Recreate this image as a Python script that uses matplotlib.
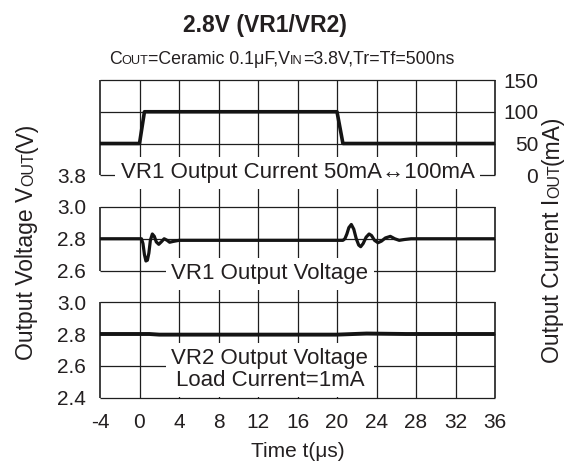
import matplotlib
matplotlib.use("Agg")
import matplotlib.pyplot as plt

plt.rcParams["font.family"] = ["Liberation Sans", "DejaVu Sans"]

# ---------------- data ----------------
time_ticks = [-4, 0, 4, 8, 12, 16, 20, 24, 28, 32, 36]

# VR1 load current step (mA)
cur_t = [-4, 0.0, 0.5, 20.0, 20.6, 36]
cur_ma = [50, 50, 100, 100, 50, 50]

# VR1 output voltage response (V)
vr1_t = [-4, 0.2, 0.35, 0.5, 0.65, 0.8, 0.95, 1.1, 1.3, 1.5, 1.7, 1.95, 2.2,
         2.5, 2.8, 3.05, 3.4, 4.0, 5.0, 8.0, 12.0, 16.0, 20.6, 20.8, 21.0,
         21.2, 21.45, 21.7, 21.95, 22.2, 22.4, 22.65, 22.95, 23.25, 23.5,
         23.8, 24.15, 24.5, 24.9, 25.4, 25.85, 26.3, 26.8, 27.5, 36]
vr1_v = [2.80, 2.80, 2.77, 2.70, 2.66, 2.665, 2.71, 2.79, 2.83, 2.815, 2.78,
         2.765, 2.78, 2.80, 2.79, 2.778, 2.783, 2.79, 2.79, 2.79, 2.79, 2.79,
         2.79, 2.80, 2.83, 2.87, 2.89, 2.86, 2.80, 2.76, 2.75, 2.77, 2.81,
         2.83, 2.82, 2.79, 2.775, 2.785, 2.805, 2.815, 2.80, 2.79, 2.795,
         2.80, 2.80]

# VR2 output voltage, 1 mA load (V)
vr2_t = [-4, 1.0, 2.0, 20.0, 23.0, 27.0, 36]
vr2_v = [2.800, 2.800, 2.796, 2.796, 2.803, 2.800, 2.800]

cur_ticks = [0, 50, 100, 150]
vr1_ticks = [2.6, 2.8, 3.0, 3.2]
vr1_tick_labels = ["2.6", "2.8", "3.0", "3.8"]
vr2_ticks = [2.4, 2.6, 2.8, 3.0]
vr2_tick_labels = ["2.4", "2.6", "2.8", "3.0"]

title = "2.8V (VR1/VR2)"
subtitle = [("C", 12.8), ("OUT", 9.2), ("=Ceramic 0.1\u03bcF,V", 12.8), ("IN", 9.2),
            ("=3.8V,Tr=Tf=500ns", 12.8)]
ylabel_left = [("Output Voltage V", 16.5), ("OUT", 11.5), ("(V)", 16.5)]
ylabel_right = [("Output Current I", 16.5), ("OUT", 11.5), ("(mA)", 16.5)]
xlabel = "Time t(\u03bcs)"
label_current = "VR1 Output Current 50mA\u2194100mA"
label_vr1 = "VR1 Output Voltage"
label_vr2 = "VR2 Output Voltage\nLoad Current=1mA"

# ---------------- layout ----------------
W, H = 571, 466
INK = "#231f20"
fig = plt.figure(figsize=(W / 100, H / 100), dpi=100)

L, R, T, B = 100, 495, 80, 397.5
ROWS = 10
row_h = (B - T) / ROWS


def rect(r0, r1):
    """Figure rectangle spanning grid rows r0..r1 (row 0 at the bottom)."""
    return [L / W, 1 - (B - r0 * row_h) / H, (R - L) / W, (r1 - r0) * row_h / H]


# background grid
ax = fig.add_axes(rect(0, ROWS))
ax.set_xlim(time_ticks[0], time_ticks[-1])
ax.set_ylim(0, ROWS)
ax.axis("off")
ax.set_zorder(0)

grid_kw = dict(color="#1e1e1e", lw=0.9, zorder=1, clip_on=False)
ax.vlines(time_ticks[1:-1], 0, ROWS, **grid_kw)
ax.hlines(range(ROWS + 1), time_ticks[0], time_ticks[-1], **grid_kw)
frame_kw = dict(color="#1e1e1e", lw=1.2, zorder=1, clip_on=False)
for x in (time_ticks[0], time_ticks[-1]):
    for y0, y1 in ((7, 10), (4, 6), (0, 3)):
        ax.vlines(x, y0, y1, **frame_kw)

box = dict(boxstyle="square,pad=0.25", fc="white", ec="none")
ax.text(16.0, 7.08, label_current, ha="center", va="center", fontsize=16,
        color=INK, bbox=box, zorder=3)
ax.text(13.2, 3.9, label_vr1, ha="center", va="center", fontsize=16,
        color=INK, bbox=box, zorder=3)
ax.text(13.2, 0.88, label_vr2, ha="center", va="center", fontsize=16,
        color=INK, bbox=box, zorder=3, linespacing=1.05)


def panel(r0, r1, ylim):
    a = fig.add_axes(rect(r0, r1))
    a.set_xlim(time_ticks[0], time_ticks[-1])
    a.set_ylim(*ylim)
    a.patch.set_visible(False)
    for sp in a.spines.values():
        sp.set_visible(False)
    a.set_zorder(2)
    a.tick_params(length=0, labelsize=15, colors=INK)
    a.set_xticks([])
    return a


ax_i = panel(7, 10, (0, 150))
ax_v1 = panel(3, 7, (2.4, 3.2))
ax_v2 = panel(0, 3, (2.4, 3.0))

line_kw = dict(color="#141414", solid_joinstyle="round", solid_capstyle="butt")
ax_i.plot(cur_t, cur_ma, lw=2.6, **line_kw)
ax_v1.plot(vr1_t, vr1_v, lw=2.3, **line_kw)
ax_v2.plot(vr2_t, vr2_v, lw=2.8, **line_kw)

# left voltage tick labels
for a, ticks, labels in ((ax_v1, vr1_ticks, vr1_tick_labels),
                         (ax_v2, vr2_ticks, vr2_tick_labels)):
    a.set_yticks(ticks)
    a.set_yticklabels(labels)
    a.tick_params(axis="y", pad=10)

# right current tick labels, right-aligned
ax_i.yaxis.tick_right()
ax_i.set_yticks(cur_ticks)
ax_i.set_yticklabels([str(v) for v in cur_ticks])
ax_i.tick_params(axis="y", pad=31)
for lab in ax_i.get_yticklabels():
    lab.set_horizontalalignment("right")

# time axis
ax_v2.set_xticks(time_ticks)
ax_v2.set_xticklabels([str(v) for v in time_ticks])
ax_v2.tick_params(axis="x", pad=11)


def px(x, y):
    return x / W, 1 - y / H


fig.text(*px(265, 32), title, ha="center", va="baseline", fontsize=16.5,
         fontweight="bold", color=INK)
fig.text(*px(297.5, 457), xlabel, ha="center", va="baseline", fontsize=15,
         color=INK)


def rich_text(x_px, y_px, pieces, rotation=0):
    """Pieces of differing size set on one baseline, centred on (x_px, y_px)."""
    r = fig.canvas.get_renderer()
    arts = [fig.text(0, 0, s, fontsize=size, rotation=rotation,
                     rotation_mode="anchor", ha="left", va="baseline",
                     color=INK) for s, size in pieces]
    lengths = []
    for t in arts:
        bb = t.get_window_extent(r)
        lengths.append(bb.width if rotation == 0 else bb.height)
    pos = -sum(lengths) / 2
    for t, ln in zip(arts, lengths):
        if rotation == 0:
            t.set_position(px(x_px + pos, y_px))
        else:
            t.set_position(px(x_px, y_px - pos))
        pos += ln


rich_text(281.5, 64, subtitle)
rich_text(33, 241, ylabel_left, rotation=90)
rich_text(559, 239, ylabel_right, rotation=90)

fig.savefig("out.png", dpi=100)
